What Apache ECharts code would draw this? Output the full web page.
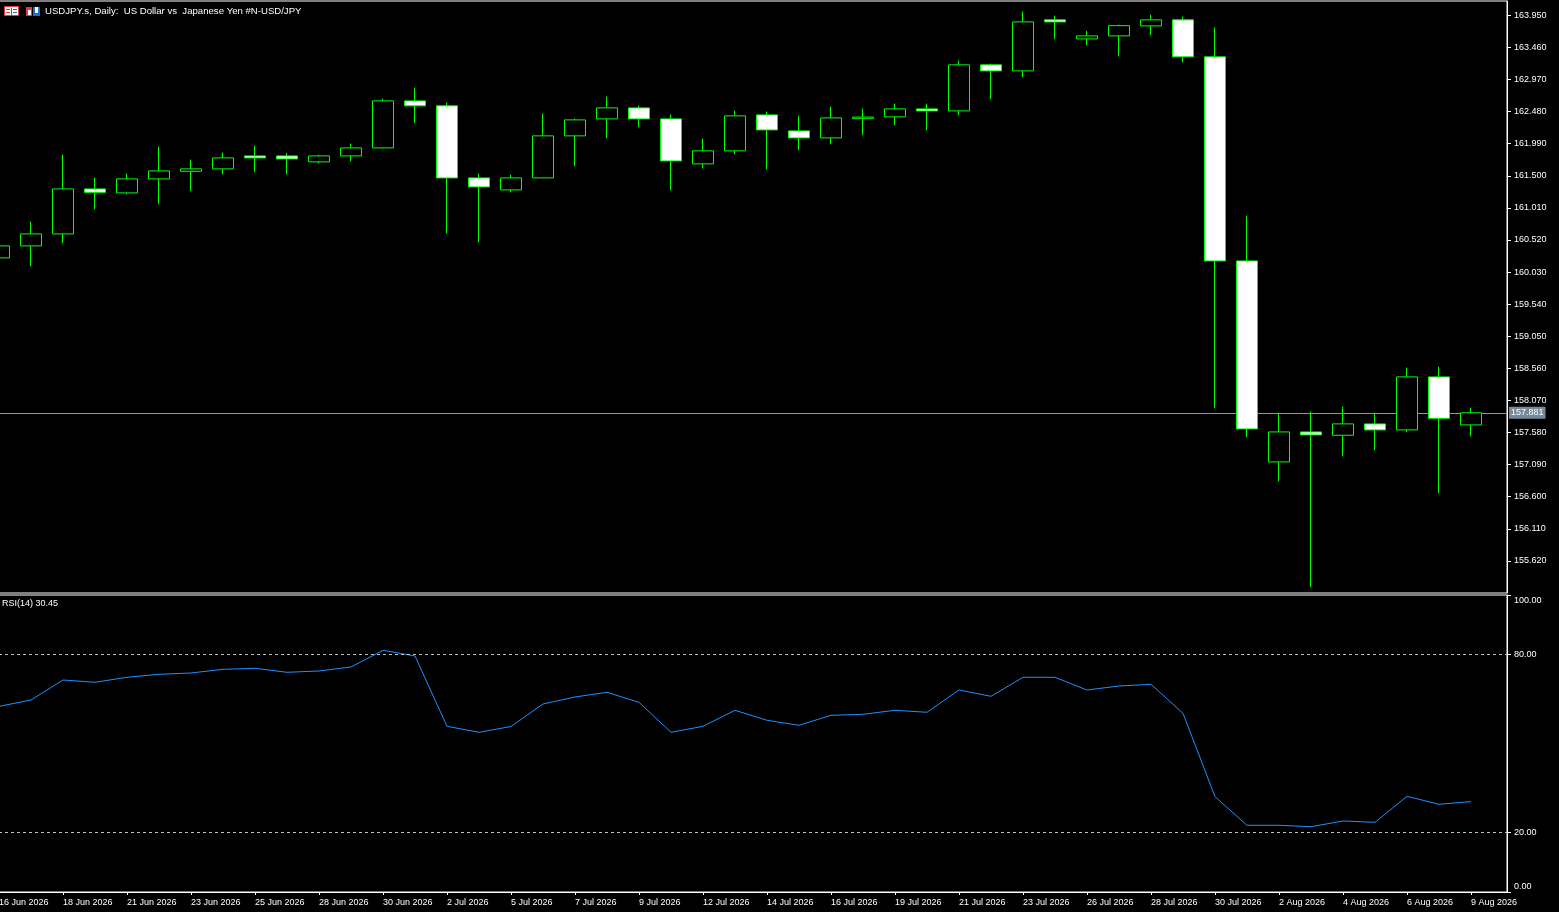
<!DOCTYPE html>
<html>
<head>
<meta charset="utf-8">
<title>USDJPY.s, Daily</title>
<script src="https://cdn.jsdelivr.net/npm/echarts@6/dist/echarts.min.js"></script>
<style>
html,body{margin:0;padding:0;background:#000;}
#main{width:1559px;height:912px;}
</style>
</head>
<body>
<div id="main"></div>
<script>
// daily bars, broker feed skips saturdays
var dates = ['16 Jun 2026','17 Jun 2026','18 Jun 2026','19 Jun 2026','21 Jun 2026','22 Jun 2026','23 Jun 2026','24 Jun 2026',
  '25 Jun 2026','26 Jun 2026','28 Jun 2026','29 Jun 2026','30 Jun 2026','1 Jul 2026','2 Jul 2026','3 Jul 2026',
  '5 Jul 2026','6 Jul 2026','7 Jul 2026','8 Jul 2026','9 Jul 2026','10 Jul 2026','12 Jul 2026','13 Jul 2026',
  '14 Jul 2026','15 Jul 2026','16 Jul 2026','17 Jul 2026','19 Jul 2026','20 Jul 2026','21 Jul 2026','22 Jul 2026',
  '23 Jul 2026','24 Jul 2026','26 Jul 2026','27 Jul 2026','28 Jul 2026','29 Jul 2026','30 Jul 2026','31 Jul 2026',
  '2 Aug 2026','3 Aug 2026','4 Aug 2026','5 Aug 2026','6 Aug 2026','7 Aug 2026','9 Aug 2026'];
var opens = [160.246,160.429,160.612,161.299,161.238,161.452,161.568,161.605,161.803,161.803,161.712,161.803,
  161.925,162.643,162.567,161.467,161.284,161.467,162.109,162.368,162.536,162.368,161.681,161.880,
  162.429,162.185,162.078,162.377,162.399,162.521,162.490,163.193,163.101,163.880,163.589,163.635,
  163.788,163.880,163.315,160.200,157.131,157.589,157.538,157.712,157.620,158.429,157.696];
var closes = [160.429,160.612,161.299,161.247,161.452,161.574,161.605,161.773,161.773,161.757,161.803,161.925,
  162.643,162.567,161.467,161.330,161.467,162.109,162.353,162.536,162.368,161.727,161.880,162.414,
  162.200,162.078,162.383,162.396,162.521,162.490,163.193,163.101,163.849,163.849,163.635,163.792,
  163.880,163.315,160.200,157.635,157.589,157.544,157.712,157.620,158.429,157.797,157.881];
var lows = [160.189,160.118,160.469,160.988,161.217,161.064,161.263,161.522,161.553,161.522,161.690,161.721,
  161.915,162.301,160.622,160.484,161.247,161.467,161.644,162.072,162.240,161.278,161.614,161.828,
  161.599,161.889,161.980,162.118,162.270,162.194,162.423,162.667,163.003,163.583,163.492,163.324,
  163.644,163.232,157.950,157.507,156.835,155.217,157.217,157.309,157.583,156.652,157.522];
var highs = [160.525,160.800,161.823,161.472,161.533,161.945,161.747,161.854,161.960,161.849,161.823,161.991,
  162.678,162.846,162.617,161.533,161.518,162.449,162.373,162.709,162.571,162.434,162.067,162.495,
  162.480,162.418,162.556,162.525,162.602,162.602,163.258,163.212,164.006,163.945,163.712,163.808,
  163.960,163.930,163.762,160.892,157.880,157.899,157.976,157.880,158.571,158.586,157.960];
var rsi = [62.50,64.65,71.38,70.61,72.29,73.30,73.74,74.98,75.32,73.97,74.41,75.76,
  81.38,79.46,55.79,53.77,55.72,63.30,65.66,67.24,63.87,53.77,55.79,61.18,
  57.81,56.13,59.49,59.83,61.18,60.51,68.01,65.89,72.29,72.29,68.01,69.36,
  69.93,60.17,32.09,22.46,22.46,21.99,23.91,23.47,32.22,29.53,30.45];
var priceTicks = ['155.620','156.110','156.600','157.090','157.580','158.070','158.560','159.050','159.540',
  '160.030','160.520','161.010','161.500','161.990','162.480','162.970','163.460','163.950'];
var rsiTicks = [0, 20, 80, 100];
var rsiLevels = [80, 20];

var FONT = 'Liberation Sans';
var GREEN = '#00ff00';

var candleData = [];
var rsiData = [];
for (var i = 0; i < dates.length; i++) {
  candleData.push([i, opens[i], closes[i], lows[i], highs[i]]);
  rsiData.push([i, rsi[i]]);
}
// date labels every second bar
var dateTicks = [];
for (var j = 0; j < dates.length; j += 2) dateTicks.push(j);
var lastPrice = closes[closes.length - 1];

var chart = echarts.init(document.getElementById('main'), null, {renderer: 'canvas'});

var option = {
  backgroundColor: '#000',
  animation: false,
  title: [{
    text: 'USDJPY.s, Daily:  US Dollar vs  Japanese Yen #N-USD/JPY',
    left: 45, top: 6, padding: 0,
    textStyle: {color: '#fff', fontSize: 9.6, fontWeight: 'normal', fontFamily: FONT}
  }, {
    text: 'RSI(14) ' + rsi[rsi.length - 1].toFixed(2),
    left: 2, top: 599, padding: 0,
    textStyle: {color: '#fff', fontSize: 9, fontWeight: 'normal', fontFamily: FONT}
  }],
  // little terminal icons before the symbol name
  graphic: [
    {type: 'rect', shape: {x: 4.5, y: 6.5, width: 14, height: 9}, style: {fill: '#fff', stroke: '#e8393a', lineWidth: 1}},
    {type: 'rect', shape: {x: 6, y: 9, width: 4, height: 1}, style: {fill: '#e8393a'}},
    {type: 'rect', shape: {x: 6, y: 12, width: 4, height: 1}, style: {fill: '#e8393a'}},
    {type: 'rect', shape: {x: 11, y: 8, width: 1, height: 7}, style: {fill: '#1c6fc8'}},
    {type: 'rect', shape: {x: 13, y: 9, width: 4, height: 1}, style: {fill: '#1c6fc8'}},
    {type: 'rect', shape: {x: 13, y: 12, width: 4, height: 1}, style: {fill: '#1c6fc8'}},
    {type: 'rect', shape: {x: 26, y: 7, width: 6, height: 9}, style: {fill: '#e8393a'}},
    {type: 'rect', shape: {x: 28, y: 10, width: 3, height: 5}, style: {fill: '#fff'}},
    {type: 'rect', shape: {x: 33, y: 7, width: 7, height: 9}, style: {fill: '#1c6fc8'}},
    {type: 'rect', shape: {x: 35, y: 7, width: 3, height: 6}, style: {fill: '#fff'}}
  ],
  grid: [
    {left: -1, right: 52, top: 1, height: 592, show: true, borderColor: '#fff', borderWidth: 1,
      backgroundColor: 'transparent', outerBoundsMode: 'none', containLabel: false},
    {left: -1, right: 52, top: 595, height: 297, show: true, borderColor: '#fff', borderWidth: 1,
      backgroundColor: 'transparent', outerBoundsMode: 'none', containLabel: false}
  ],
  xAxis: [{
    type: 'value', gridIndex: 0, min: 0, max: 47.125, show: false,
    axisLine: {onZero: false}
  }, {
    type: 'value', gridIndex: 1, min: 0, max: 47.125,
    axisLine: {show: true, onZero: false, lineStyle: {color: '#fff', width: 1}},
    axisTick: {show: true, length: 3, customValues: dateTicks, lineStyle: {color: '#fff'}},
    axisLabel: {
      customValues: dateTicks, color: '#fff', fontSize: 9, fontFamily: FONT, margin: 6, align: 'left',
      formatter: function (v) { return dates[Math.round(v)] || ''; }
    },
    splitLine: {show: false}
  }],
  yAxis: [{
    type: 'value', gridIndex: 0, position: 'right', min: 155.13, max: 164.168, scale: true,
    axisLine: {show: true, onZero: false, lineStyle: {color: '#fff', width: 1}},
    axisTick: {show: true, length: 4, customValues: priceTicks.map(Number), lineStyle: {color: '#fff'}},
    axisLabel: {
      customValues: priceTicks.map(Number), color: '#fff', fontSize: 9, fontFamily: FONT, margin: 7,
      formatter: function (v) { return v.toFixed(3); }
    },
    splitLine: {show: false}
  }, {
    type: 'value', gridIndex: 1, position: 'right', min: 0, max: 100,
    axisLine: {show: true, onZero: false, lineStyle: {color: '#fff', width: 1}},
    axisTick: {show: true, length: 4, customValues: rsiTicks, lineStyle: {color: '#fff'}},
    axisLabel: {
      customValues: rsiTicks, color: '#fff', fontSize: 9, fontFamily: FONT, margin: 7,
      formatter: function (v) {
        // top and bottom labels are pushed inside the pane
        if (v >= 100) return '{top|' + v.toFixed(2) + '}';
        if (v <= 0) return '{bot|' + v.toFixed(2) + '}';
        return v.toFixed(2);
      },
      rich: {
        top: {color: '#fff', fontSize: 9, fontFamily: FONT, padding: [11, 0, 0, 0]},
        bot: {color: '#fff', fontSize: 9, fontFamily: FONT, padding: [0, 0, 11, 0]}
      }
    },
    splitLine: {show: false}
  }],
  series: [{
    name: 'USDJPY.s',
    type: 'candlestick',
    xAxisIndex: 0, yAxisIndex: 0,
    data: candleData,
    encode: {x: 0, y: [1, 2, 3, 4]},
    barWidth: 21,
    z: 3,
    itemStyle: {
      color: '#000', color0: '#fff',
      borderColor: GREEN, borderColor0: GREEN, borderColorDoji: GREEN,
      borderWidth: 1
    },
    markLine: {
      silent: true, z: 1,
      symbol: ['none', 'none'],
      data: [{yAxis: lastPrice}],
      lineStyle: {color: '#8796a5', width: 1, type: 'solid'},
      label: {
        show: true, position: 'end', distance: 2,
        formatter: function () { return lastPrice.toFixed(3); },
        color: '#fff', backgroundColor: '#778899', padding: [2, 2, 1, 2],
        fontSize: 9, fontFamily: FONT
      }
    }
  }, {
    name: 'RSI(14)',
    type: 'line',
    xAxisIndex: 1, yAxisIndex: 1,
    data: rsiData,
    symbol: 'none',
    lineStyle: {color: '#1e90ff', width: 1},
    markLine: {
      silent: true,
      symbol: ['none', 'none'],
      data: rsiLevels.map(function (v) { return {yAxis: v}; }),
      lineStyle: {color: '#c0c0c0', width: 1, type: [3, 3]},
      label: {show: false}
    }
  }]
};
chart.setOption(option);
</script>
</body>
</html>
